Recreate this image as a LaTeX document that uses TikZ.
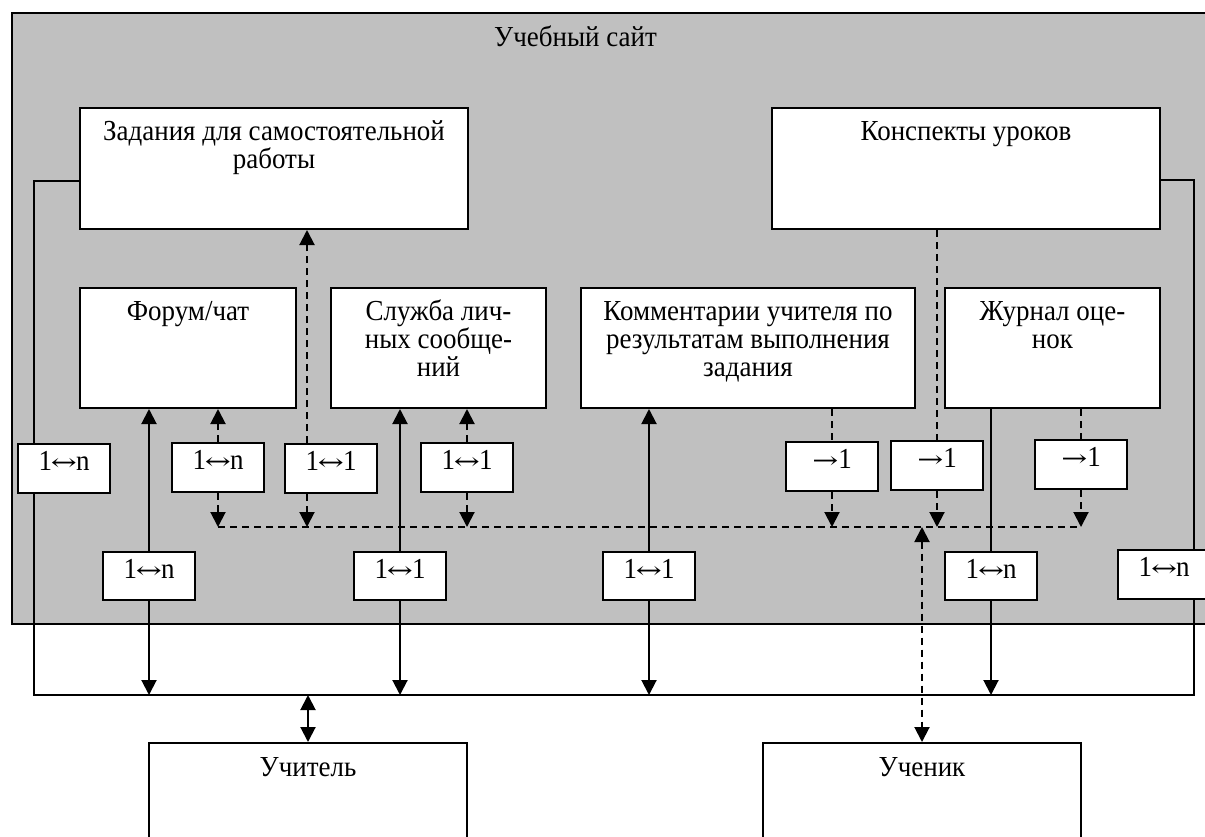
\documentclass[tikz,border=0pt]{standalone}
\usepackage{fontspec}
\setmainfont{Liberation Serif}[FakeStretch=0.93]
\newfontfamily\arrfont{DejaVu Serif}[FakeStretch=1.35]
\usetikzlibrary{arrows.meta,calc}
\definecolor{sitegray}{RGB}{192,192,192}
\newcommand{\bt}[4]{\parbox[c][#2pt][t]{#1pt}{\centering\rule{0pt}{#3pt}#4\par}}
\newcommand{\lr}{{\arrfont\fontsize{23}{23}\selectfont\kern-1pt↔\kern-1pt}}
\newcommand{\ra}{{\arrfont\fontsize{23}{23}\selectfont→}}
\begin{document}
\begin{tikzpicture}[x=1pt,y=-1pt,
  ln/.style={line width=2pt},
  dsh/.style={line width=2pt, dash pattern=on 7pt off 5pt},
  tip/.style={-{Triangle[length=15pt,width=15pt]}},
  tips/.style={{Triangle[length=15pt,width=15pt]}-{Triangle[length=15pt,width=15pt]}},
  txt/.style={font=\fontsize{29}{28}\selectfont},
  box/.style={draw, line width=2pt, fill=white, inner sep=0pt, anchor=north west, txt},
]
\useasboundingbox (0,0) rectangle (1205,836);
\clip (0,0) rectangle (1205,836);

% site container
\node[draw, fill=sitegray, line width=2pt, inner sep=0pt, anchor=north west,
      minimum width=1230pt, minimum height=611pt] (site) at (11,12) {};
\node[txt, anchor=base] (title) at (575.5,46.5) {Учебный сайт};

% main boxes
\node[box] (zad)   at (79,107)  {\bt{388}{121}{32}{Задания для самостоятельной\\работы}};
\node[box] (kon)   at (771,107) {\bt{388}{121}{32}{Конспекты уроков}};
\node[box] (forum) at (79,287)  {\bt{216}{120}{32}{Форум/чат}};
\node[box] (sluzh) at (330,287) {\bt{215}{120}{32}{Служба лич-\\ных сообще-\\ний}};
\node[box] (komm)  at (580,287) {\bt{334}{120}{32}{Комментарии учителя по\\результатам выполнения\\задания}};
\node[box] (zhurn) at (944,287) {\bt{215}{120}{32}{Журнал оце-\\нок}};

% relation boxes, upper row
\node[box] (b1) at (17,443)   {\bt{92}{49}{26}{1\lr n}};
\node[box] (b2) at (171,442)  {\bt{92}{49}{26}{1\lr n}};
\node[box] (b3) at (284,443)  {\bt{92}{49}{26}{1\lr 1}};
\node[box] (b4) at (420,442)  {\bt{92}{49}{26}{1\lr 1}};
\node[box] (d1) at (785,441)  {\bt{92}{49}{26}{\ra 1}};
\node[box] (d2) at (890,440)  {\bt{92}{49}{26}{\ra 1}};
\node[box] (d3) at (1034,439) {\bt{92}{49}{26}{\ra 1}};

% relation boxes, lower row
\node[box] (c1) at (102,551)  {\bt{92}{48}{26}{1\lr n}};
\node[box] (c2) at (353,551)  {\bt{92}{48}{26}{1\lr 1}};
\node[box] (c3) at (602,551)  {\bt{92}{48}{26}{1\lr 1}};
\node[box] (c4) at (944,551)  {\bt{92}{48}{26}{1\lr n}};
\node[box] (c5) at (1117,549) {\bt{92}{49}{26}{1\lr n}};

% users
\node[box] (uch) at (148,742) {\bt{318}{150}{33}{Учитель}};
\node[box] (ucn) at (762,742) {\bt{318}{150}{33}{Ученик}};

% helper coordinates
\coordinate (xL) at (34,0);
\coordinate (xR) at (1194,0);
\coordinate (xZ) at (307,0);
\coordinate (bus) at (0,695);
\coordinate (dbus) at (0,527);

% outer solid lines
\draw[ln] ([yshift=-12.5pt]zad.west) -| (b1.north -| xL);
\draw[ln] (b1.south -| xL) |- (bus -| xR) -- (c5.south -| xR);
\draw[ln] ([yshift=-11.5pt]kon.east) -| (c5.north -| xR);

% solid connectors
\draw[ln,tip] (c1.north) -- (c1.north |- forum.south);
\draw[ln,tip] (c1.south) -- (c1.south |- bus);
\draw[ln,tip] (c2.north) -- (c2.north |- sluzh.south);
\draw[ln,tip] (c2.south) -- (c2.south |- bus);
\draw[ln,tip] (c3.north) -- (c3.north |- komm.south);
\draw[ln,tip] (c3.south) -- (c3.south |- bus);
\draw[ln] (c4.north) -- (c4.north |- zhurn.south);
\draw[ln,tip] (c4.south) -- (c4.south |- bus);
\draw[ln,tips] (uch.north |- bus) -- (uch.north);

% dashed connectors
\draw[dsh,tip] (b2.north) -- (b2.north |- forum.south);
\draw[dsh,tip] (b2.south) -- (b2.south |- dbus);
\draw[dsh,tip] (b3.north -| xZ) -- (xZ |- zad.south);
\draw[dsh,tip] (b3.south -| xZ) -- (xZ |- dbus);
\draw[dsh,tip] (b4.north) -- (b4.north |- sluzh.south);
\draw[dsh,tip] (b4.south) -- (b4.south |- dbus);
\draw[dsh] (d1.north |- komm.south) -- (d1.north);
\draw[dsh,tip] (d1.south) -- (d1.south |- dbus);
\draw[dsh] (d2.north |- kon.south) -- (d2.north);
\draw[dsh,tip] (d2.south) -- (d2.south |- dbus);
\draw[dsh] (d3.north |- zhurn.south) -- (d3.north);
\draw[dsh,tip] (d3.south) -- (d3.south |- dbus);
\draw[dsh] (b2.south |- dbus) -- (d3.south |- dbus);
\draw[dsh,tips] (ucn.north |- dbus) -- (ucn.north);
\end{tikzpicture}
\end{document}
